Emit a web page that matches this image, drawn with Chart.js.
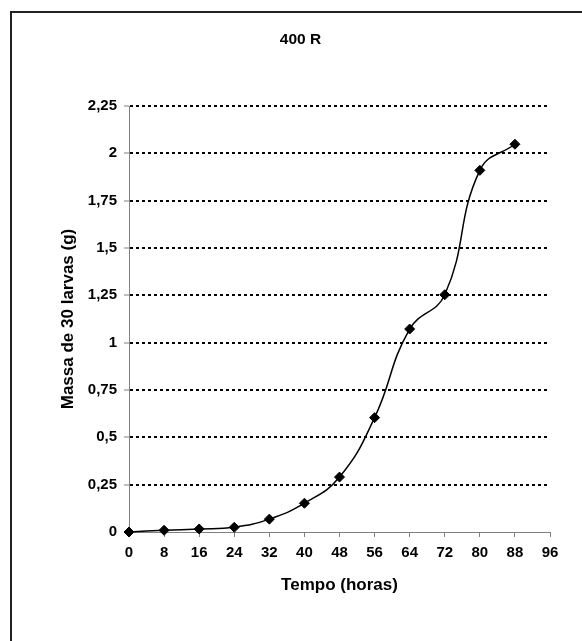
<!DOCTYPE html>
<html>
<head>
<meta charset="utf-8">
<script src="https://cdn.jsdelivr.net/npm/chart.js@4"></script>
<style>
  html, body { margin: 0; padding: 0; background: #fff; overflow: hidden; width: 582px; height: 641px; }
  #frame { position: absolute; left: 10px; top: 11px; width: 700px; height: 700px;
           border-left: 2px solid #222; border-top: 2px solid #222; }
  #wrap { position: absolute; left: 11px; top: 12px; width: 582px; height: 629px; }
</style>
</head>
<body>
<div id="frame"></div>
<div id="wrap"><canvas id="c" width="582" height="629"></canvas></div>
<script>
const chartTitle = "400 R";
const xAxisTitle = "Tempo (horas)";
const yAxisTitle = "Massa de 30 larvas (g)";
const hours = [0, 8, 16, 24, 32, 40, 48, 56, 64, 72, 80, 88];
const mass  = [0, 0.009, 0.016, 0.025, 0.068, 0.152, 0.29, 0.604, 1.072, 1.253, 1.91, 2.048];
const xTickValues = [0, 8, 16, 24, 32, 40, 48, 56, 64, 72, 80, 88, 96];
const yTickValues = [0, 0.25, 0.5, 0.75, 1, 1.25, 1.5, 1.75, 2, 2.25];
const yTickLabels = ["0", "0,25", "0,5", "0,75", "1", "1,25", "1,5", "1,75", "2", "2,25"];

const FONT = "'Liberation Sans', Arial, Helvetica, sans-serif";

new Chart(document.getElementById('c'), {
  type: 'line',
  data: {
    datasets: [{
      data: hours.map((h, i) => ({ x: h, y: mass[i] })),
      borderColor: '#000',
      backgroundColor: '#000',
      borderWidth: 1.5,
      tension: 0.45,
      pointStyle: 'rectRot',
      pointRadius: 5,
      pointHoverRadius: 5,
      pointBackgroundColor: '#000',
      pointBorderColor: '#000',
      pointBorderWidth: 1,
      clip: false,
      fill: false
    }]
  },
  options: {
    responsive: false,
    animation: false,
    events: [],
    layout: { padding: { left: 40, right: 43, top: 0, bottom: 40 } },
    plugins: {
      legend: { display: false },
      tooltip: { enabled: false },
      title: {
        display: true,
        text: chartTitle,
        color: '#000',
        font: { family: FONT, size: 15.5, weight: 'bold' },
        padding: { top: 18, bottom: 57.4 }
      }
    },
    scales: {
      x: {
        type: 'linear',
        min: 0, max: 96,
        afterBuildTicks: (s) => { s.ticks = xTickValues.map(v => ({ value: v })); },
        afterFit: (s) => { s.height = 69; },
        ticks: {
          color: '#000',
          padding: 6.5,
          maxRotation: 0,
          autoSkip: false,
          font: { family: FONT, size: 15, weight: 'bold' },
          callback: (v) => String(v)
        },
        grid: { drawOnChartArea: false, drawTicks: true, tickLength: 5, tickColor: '#808080', tickWidth: 1 },
        border: { display: true, color: '#808080', width: 1 },
        title: {
          display: true, text: xAxisTitle, color: '#000',
          font: { family: FONT, size: 17, weight: 'bold' },
          padding: { top: 0, bottom: 5.8 }
        }
      },
      y: {
        type: 'linear',
        min: 0, max: 2.25,
        afterBuildTicks: (s) => { s.ticks = yTickValues.map(v => ({ value: v })); },
        afterFit: (s) => { s.width = 78; },
        ticks: {
          color: '#000',
          padding: 7,
          autoSkip: false,
          font: { family: FONT, size: 15, weight: 'bold' },
          callback: (v) => { const i = yTickValues.indexOf(v); return i >= 0 ? yTickLabels[i] : ''; }
        },
        grid: {
          color: (ctx) => (ctx.tick && ctx.tick.value === 0) ? 'rgba(0,0,0,0)' : '#000',
          lineWidth: 2,
          drawTicks: true, tickLength: 5, tickColor: '#808080', tickWidth: 1, tickBorderDash: []
        },
        border: { display: true, color: '#808080', width: 1, dash: [3, 3] },
        title: {
          display: true, text: yAxisTitle, color: '#000',
          font: { family: FONT, size: 17, weight: 'bold' },
          padding: { top: 6.8, bottom: 0 }
        }
      }
    }
  }
});
</script>
</body>
</html>
